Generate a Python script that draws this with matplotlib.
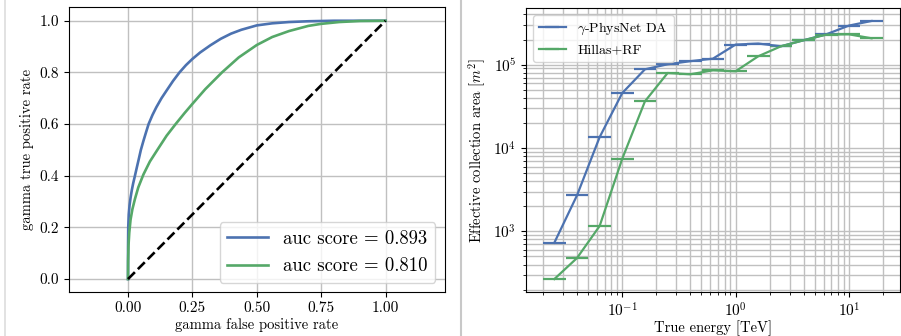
import matplotlib
matplotlib.use("Agg")
import matplotlib.pyplot as plt
from matplotlib.lines import Line2D
import numpy as np

plt.rcParams['font.family'] = ['cmr10', 'DejaVu Serif']
plt.rcParams['mathtext.fontset'] = 'cm'
plt.rcParams['axes.formatter.use_mathtext'] = True
plt.rcParams['font.size'] = 11

blue = '#4C72B0'
green = '#55A868'

# ROC curves
fpr_da = [0.0, 0.0002, 0.001, 0.003, 0.006, 0.01, 0.015, 0.02, 0.027, 0.035,
          0.042, 0.05, 0.06, 0.07, 0.08, 0.095, 0.11, 0.13, 0.15, 0.175,
          0.2, 0.225, 0.25, 0.28, 0.32, 0.36, 0.4, 0.44, 0.5, 0.56,
          0.625, 0.7, 0.8, 1.0]
tpr_da = [0.0, 0.12, 0.2, 0.25, 0.285, 0.315, 0.345, 0.37, 0.4, 0.435,
          0.465, 0.5, 0.535, 0.568, 0.6, 0.635, 0.665, 0.7, 0.73, 0.767,
          0.8, 0.828, 0.852, 0.877, 0.905, 0.93, 0.95, 0.965, 0.982, 0.99,
          0.995, 0.998, 1.0, 1.0]
fpr_rf = [0.0, 0.0005, 0.002, 0.005, 0.01, 0.017, 0.027, 0.04, 0.06, 0.085,
          0.114, 0.15, 0.185, 0.22, 0.25, 0.3, 0.365, 0.43, 0.5, 0.56,
          0.625, 0.7, 0.75, 0.82, 0.9, 1.0]
tpr_rf = [0.0, 0.07, 0.13, 0.18, 0.23, 0.27, 0.31, 0.355, 0.405, 0.455,
          0.5, 0.555, 0.6, 0.643, 0.678, 0.735, 0.8, 0.858, 0.906, 0.937,
          0.96, 0.98, 0.988, 0.995, 0.999, 1.0]
auc_da = 0.893
auc_rf = 0.810

# effective area per energy bin
e_edges = [0.02, 0.0317, 0.0502, 0.0796, 0.126, 0.2, 0.317, 0.502, 0.796,
           1.26, 2.0, 3.17, 5.02, 7.96, 12.6, 20.0]
aeff_da = [731, 2700, 13500, 45700, 87900, 101000, 110000, 118000, 174000,
           179000, 166000, 196000, 231000, 294000, 334000]
aeff_rf = [268, 479, 1160, 7450, 36300, 79400, 76600, 85500, 83200,
           126000, 166000, 196000, 229000, 231000, 207000]

fig = plt.figure(figsize=(9.01, 3.36), dpi=100)

ax1 = fig.add_axes([0.0766, 0.131, 0.417, 0.848])
ax1.plot(fpr_da, tpr_da, color=blue, lw=1.9, label='auc score = %.3f' % auc_da)
ax1.plot(fpr_rf, tpr_rf, color=green, lw=1.9, label='auc score = %.3f' % auc_rf)
ax1.plot([0, 1], [0, 1], 'k--', lw=1.9)
ax1.set_xlim(-0.229, 1.23)
ax1.set_ylim(-0.05, 1.053)
ax1.set_xticks([0, 0.25, 0.5, 0.75, 1.0])
ax1.set_xticklabels(['0.00', '0.25', '0.50', '0.75', '1.00'])
ax1.set_yticks([0, 0.2, 0.4, 0.6, 0.8, 1.0])
ax1.set_yticklabels(['0.0', '0.2', '0.4', '0.6', '0.8', '1.0'])
ax1.grid(True, color='#c0c0c0', lw=1)
ax1.set_axisbelow(True)
ax1.set_xlabel('gamma false positive rate', fontsize=10.5, labelpad=2)
ax1.set_ylabel('gamma true positive rate', fontsize=10.5)
ax1.legend(loc='lower right', fontsize=13.5, handlelength=2.2)

edges = np.array(e_edges)
centers = np.sqrt(edges[:-1] * edges[1:])
xerr = [centers - edges[:-1], edges[1:] - centers]

ax2 = fig.add_axes([0.5838, 0.131, 0.415, 0.845])
ax2.errorbar(centers, aeff_da, xerr=xerr, fmt='-', color=blue, lw=1.6,
             elinewidth=1.6, label=r'$\gamma$-PhysNet DA')
ax2.errorbar(centers, aeff_rf, xerr=xerr, fmt='-', color=green, lw=1.6,
             elinewidth=1.6, label='Hillas+RF')
ax2.set_xscale('log')
ax2.set_yscale('log')
ax2.grid(True, which='both', color='#c0c0c0', lw=1)
ax2.set_axisbelow(True)
ax2.set_xlabel('True energy [TeV]', fontsize=10.5, labelpad=0)
ax2.set_ylabel(r'Effective collection area [$m^2$]', fontsize=10.5)
ax2.legend(loc='upper left', fontsize=10)

fig.add_artist(Line2D([0.006, 0.006], [0, 1], color='#dddddd', lw=1.2))
fig.add_artist(Line2D([0.512, 0.512], [0, 1], color='#c8c8c8', lw=1.5))

fig.savefig('out.png', dpi=100)
